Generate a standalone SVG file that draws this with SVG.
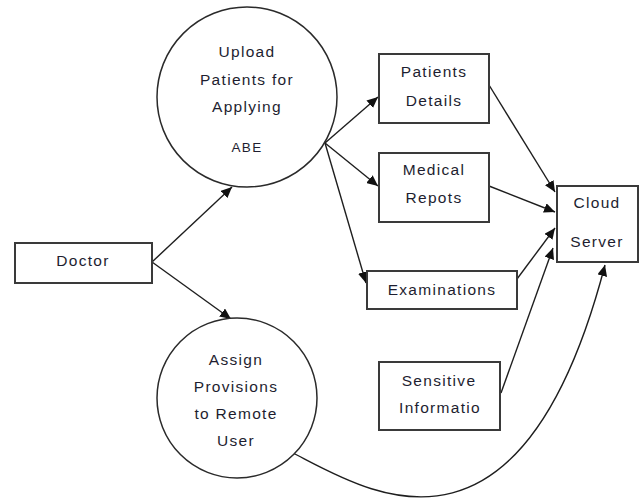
<svg xmlns="http://www.w3.org/2000/svg" width="644" height="501" viewBox="0 0 644 501">
  <style>
    .box { fill: #ffffff; stroke: #3a3a3a; stroke-width: 2; }
    .circ { fill: #ffffff; stroke: #2a2a2a; stroke-width: 1.5; }
    .lbl { font-family: "Liberation Sans", Arial, sans-serif; font-size: 15.5px; letter-spacing: 1.3px; fill: #1e1e30; text-anchor: middle; }
    .sm { font-size: 13.5px; }
    .edge { fill: none; stroke: #1e1e1e; stroke-width: 1.4; marker-end: url(#arrow); }
  </style>
  <defs>
    <marker id="arrow" markerUnits="userSpaceOnUse" markerWidth="12" markerHeight="10" refX="11" refY="5" orient="auto">
      <path d="M0,0 L11,5 L0,10 Z" fill="#111111"/>
    </marker>
  </defs>

  <rect width="644" height="501" fill="#ffffff"/>

  <!-- connectors -->
  <g id="connectors">
    <path class="edge" d="M152,262 L232,187"/>
    <path class="edge" d="M152,262 L231,319"/>
    <path class="edge" d="M325,143 L378,97"/>
    <path class="edge" d="M325,143 L378,186"/>
    <path class="edge" d="M325,143 L366,283"/>
    <path class="edge" d="M489,85 L555,192"/>
    <path class="edge" d="M489,186 L555,212"/>
    <path class="edge" d="M517,279 L555,228"/>
    <path class="edge" d="M501,393 L553,248"/>
    <path class="edge" d="M293,453 C365,490 520,590 605,265"/>
  </g>

  <!-- nodes -->
  <g id="doctor">
    <rect class="box" x="15" y="243" width="137" height="40"/>
    <text class="lbl" x="83" y="266">Doctor</text>
  </g>

  <g id="upload">
    <circle class="circ" cx="247" cy="97" r="90"/>
    <text class="lbl" x="247" y="57">Upload</text>
    <text class="lbl" x="247" y="85">Patients for</text>
    <text class="lbl" x="247" y="112">Applying</text>
    <text class="lbl sm" x="247" y="152">ABE</text>
  </g>

  <g id="assign">
    <circle class="circ" cx="237" cy="398" r="80"/>
    <text class="lbl" x="236" y="365">Assign</text>
    <text class="lbl" x="236" y="392">Provisions</text>
    <text class="lbl" x="236" y="419">to Remote</text>
    <text class="lbl" x="236" y="446">User</text>
  </g>

  <g id="patients-details">
    <rect class="box" x="379" y="54" width="110" height="69"/>
    <text class="lbl" x="434" y="77">Patients</text>
    <text class="lbl" x="434" y="106">Details</text>
  </g>

  <g id="medical-repots">
    <rect class="box" x="379" y="153" width="110" height="69"/>
    <text class="lbl" x="434" y="175">Medical</text>
    <text class="lbl" x="434" y="203">Repots</text>
  </g>

  <g id="examinations">
    <rect class="box" x="367" y="271" width="150" height="38"/>
    <text class="lbl" x="442" y="295">Examinations</text>
  </g>

  <g id="sensitive">
    <rect class="box" x="379" y="362" width="121" height="68"/>
    <text class="lbl" x="439" y="386">Sensitive</text>
    <text class="lbl" x="440" y="413">Informatio</text>
  </g>

  <g id="cloud-server">
    <rect class="box" x="557" y="186" width="81" height="76"/>
    <text class="lbl" x="597" y="208">Cloud</text>
    <text class="lbl" x="597" y="247">Server</text>
  </g>
</svg>
